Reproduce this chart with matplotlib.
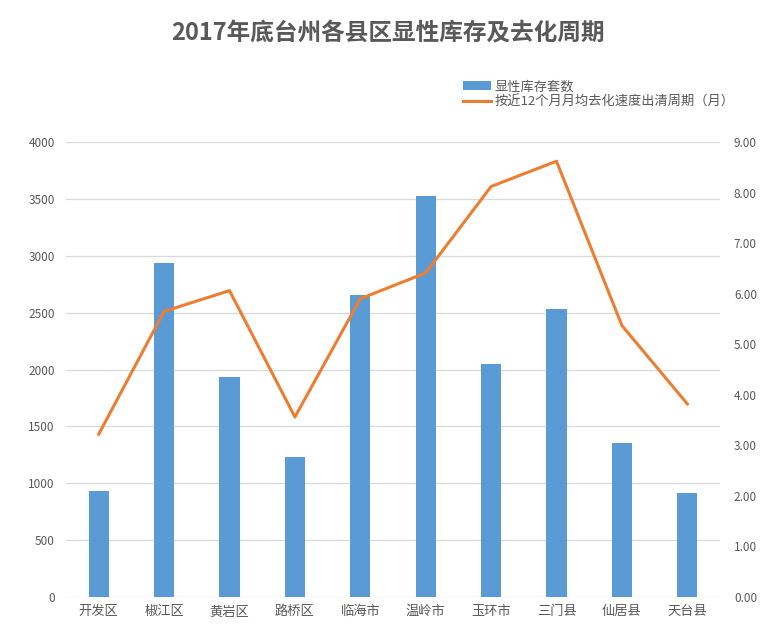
import matplotlib
matplotlib.use('Agg')
import matplotlib.pyplot as plt
from matplotlib.ticker import FormatStrFormatter

plt.rcParams['font.family'] = ['Noto Sans CJK SC', 'DejaVu Sans']

# ── Data ─────────────────────────────────────────────────────────────────────
districts = ["开发区", "椒江区", "黄岩区", "路桥区", "临海市",
             "温岭市", "玉环市", "三门县", "仙居县", "天台县"]
inventory = [930, 2935, 1935, 1230, 2655, 3525, 2048, 2532, 1356, 914]
months    = [3.22, 5.65, 6.06, 3.56, 5.90, 6.41, 8.12, 8.62, 5.37, 3.82]

BAR_COLOR  = "#5B9BD5"
LINE_COLOR = "#ED7D31"
GRID_COLOR = "#D9D9D9"
TEXT_COLOR = "#595959"

fig = plt.figure(figsize=(7.75, 6.34), dpi=100)
ax = fig.add_axes([66/775, 1 - 597/634, (720 - 66)/775, (597 - 142)/634])
ax2 = ax.twinx()

x = range(len(districts))
bars = ax.bar(x, inventory, width=0.31, color=BAR_COLOR, zorder=2,
              label="显性库存套数")
line, = ax2.plot(x, months, color=LINE_COLOR, lw=2.2, zorder=3,
                 label="按近12个月月均去化速度出清周期（月）")

ax.set_xlim(-0.5, len(districts) - 0.5)
ax.set_ylim(0, 4000)
ax.set_yticks(range(0, 4001, 500))
ax2.set_ylim(0, 9)
ax2.set_yticks(range(0, 10))
ax2.yaxis.set_major_formatter(FormatStrFormatter("%.2f"))

ax.set_xticks(list(x))
ax.set_xticklabels(districts)
ax.grid(axis="y", color=GRID_COLOR, lw=0.9, zorder=0)
ax.set_axisbelow(True)

for a in (ax, ax2):
    for s in a.spines.values():
        s.set_visible(False)
    a.tick_params(length=0, colors=TEXT_COLOR, labelsize=8.5)
ax.tick_params(axis="x", labelsize=9.5, pad=6)
ax.tick_params(axis="y", pad=8)
ax2.tick_params(axis="y", pad=10)

ax.set_zorder(ax2.get_zorder() - 1)
ax2.patch.set_visible(False)

fig.text(0.5, 1 - 33/634, "2017年底台州各县区显性库存及去化周期",
         ha="center", va="center", fontsize=17, fontweight="bold",
         color=TEXT_COLOR)

fig.legend(handles=[bars, line], loc="upper left",
           bbox_to_anchor=(458/775, 1 - 75/634), frameon=False,
           fontsize=9.5, handlelength=2.1, handletextpad=0.25,
           labelspacing=0.2, borderaxespad=0, labelcolor=TEXT_COLOR)

fig.savefig("out.png", dpi=100)
